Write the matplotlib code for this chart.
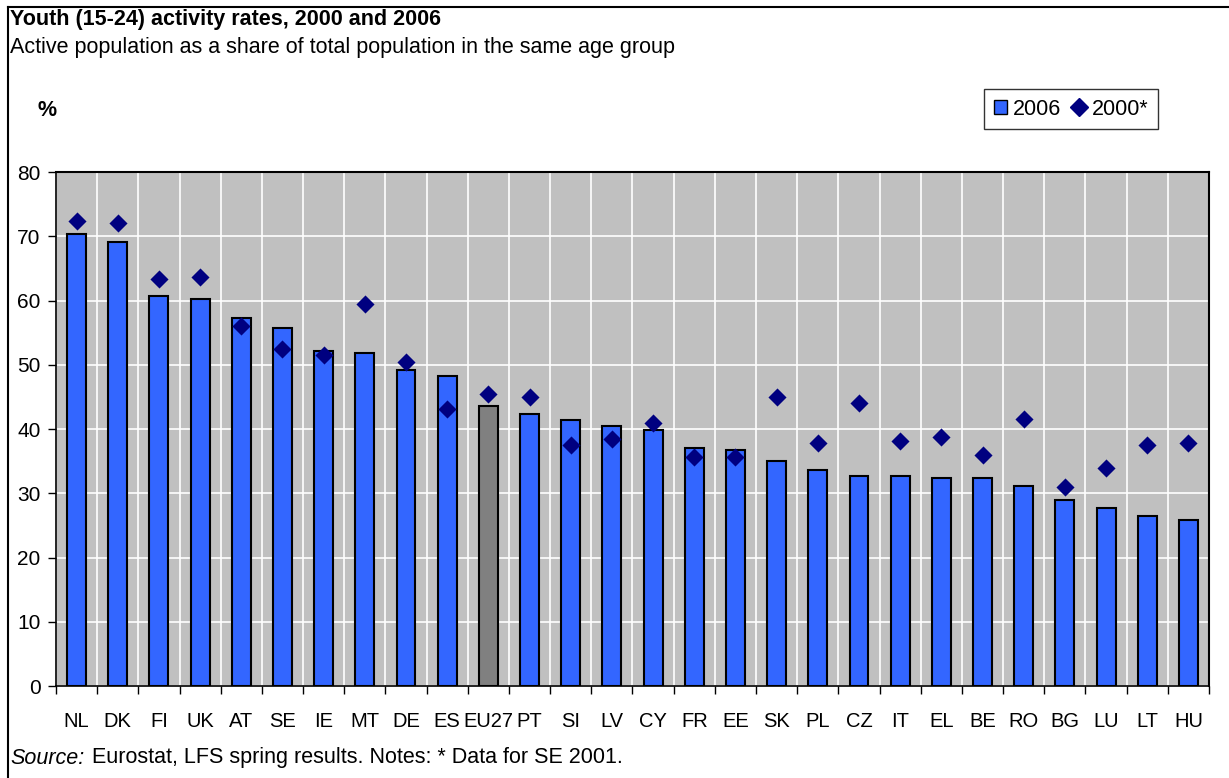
import matplotlib
matplotlib.use("Agg")
import matplotlib.pyplot as plt
from matplotlib.lines import Line2D
from matplotlib.patches import Patch
import numpy as np

plt.rcParams['font.family'] = ['Liberation Sans', 'DejaVu Sans']

countries = ["NL", "DK", "FI", "UK", "AT", "SE", "IE", "MT", "DE", "ES", "EU27", "PT",
             "SI", "LV", "CY", "FR", "EE", "SK", "PL", "CZ", "IT", "EL", "BE", "RO",
             "BG", "LU", "LT", "HU"]
rate_2006 = [70.3, 69.1, 60.7, 60.3, 57.2, 55.7, 52.2, 51.9, 49.2, 48.2, 43.6, 42.3,
             41.4, 40.5, 39.9, 37.1, 36.8, 35.0, 33.6, 32.7, 32.7, 32.4, 32.4, 31.1,
             29.0, 27.7, 26.5, 25.9]
rate_2000 = [72.3, 72.0, 63.3, 63.6, 56.1, 52.4, 51.5, 59.5, 50.5, 43.1, 45.5, 45.0,
             37.5, 38.4, 40.9, 35.6, 35.6, 45.0, 37.8, 44.0, 38.1, 38.7, 35.9, 41.5,
             31.0, 34.0, 37.5, 37.8]
yticks = [0, 10, 20, 30, 40, 50, 60, 70, 80]

W, H = 1229, 778
fig = plt.figure(figsize=(W / 100, H / 100), dpi=100)
ax = fig.add_axes([56 / W, 1 - 686 / H, (1209 - 56) / W, (686 - 172) / H])

x = np.arange(len(countries))
colors = ["#808080" if c == "EU27" else "#3366FF" for c in countries]
ax.set_facecolor("#C0C0C0")
ax.bar(x, rate_2006, width=0.46, color=colors, edgecolor="black", linewidth=1.5, zorder=3)
ax.scatter(x, rate_2000, marker="D", s=85, color="#000080", zorder=4, linewidths=0)

ax.set_xlim(-0.5, len(countries) - 0.5)
ax.set_ylim(0, 80)
ax.set_yticks(yticks)
ax.set_yticklabels([str(v) for v in yticks], fontsize=15)
ax.set_xticks(x)
ax.set_xticklabels(countries, fontsize=14.5)
ax.set_xticks(np.arange(-0.5, len(countries), 1), minor=True)
ax.tick_params(axis='x', which='major', length=0, pad=19)
ax.tick_params(axis='x', which='minor', length=6, width=1, direction='out')
ax.tick_params(axis='y', length=6, width=1, direction='out', pad=5)
ax.grid(True, axis='y', color='white', linewidth=1.2, zorder=1)
ax.grid(True, axis='x', which='minor', color='white', linewidth=1.2, zorder=1)
for s in ax.spines.values():
    s.set_color("black")
    s.set_linewidth(1.5)
ax.spines["left"].set_linewidth(1.2)
ax.spines["bottom"].set_linewidth(1.2)

# figure frame (left and top)
fig.add_artist(Line2D([8 / W, 8 / W], [0, 1 - 7 / H], transform=fig.transFigure, color="black", linewidth=1.5))
fig.add_artist(Line2D([8 / W, 1], [1 - 7 / H, 1 - 7 / H], transform=fig.transFigure, color="black", linewidth=1.5))

FS = 15.5
fig.text(10 / W, 1 - 19 / H, "Youth (15-24) activity rates, 2000 and 2006", fontsize=FS,
         fontweight="bold", va="center", ha="left")
fig.text(10 / W, 1 - 47 / H, "Active population as a share of total population in the same age group",
         fontsize=FS, va="center", ha="left")
fig.text(38 / W, 1 - 110 / H, "%", fontsize=FS, fontweight="bold", va="center", ha="left")

src = fig.text(10 / W, 1 - 758 / H, "Source:", fontsize=FS, style="italic", va="center", ha="left")
renderer = fig.canvas.get_renderer()
bb = src.get_window_extent(renderer=renderer)
fig.text((bb.x1 + 8) / W, 1 - 758 / H, "Eurostat, LFS spring results. Notes: * Data for SE 2001.",
         fontsize=FS, va="center", ha="left")

handles = [Patch(facecolor="#3366FF", edgecolor="black", linewidth=1.0),
           Line2D([], [], marker="D", linestyle="none", color="#000080", markersize=9)]
leg = fig.legend(handles, ["2006", "2000*"], loc="upper right", bbox_to_anchor=(1158 / W, 1 - 89 / H),
                 ncol=2, frameon=True, fancybox=False, edgecolor="black", fontsize=FS,
                 handlelength=0.6, handleheight=0.6, handletextpad=0.3, columnspacing=0.5,
                 borderpad=0.45, borderaxespad=0)
leg.get_frame().set_linewidth(1.0)

fig.savefig("out.png", dpi=100)
